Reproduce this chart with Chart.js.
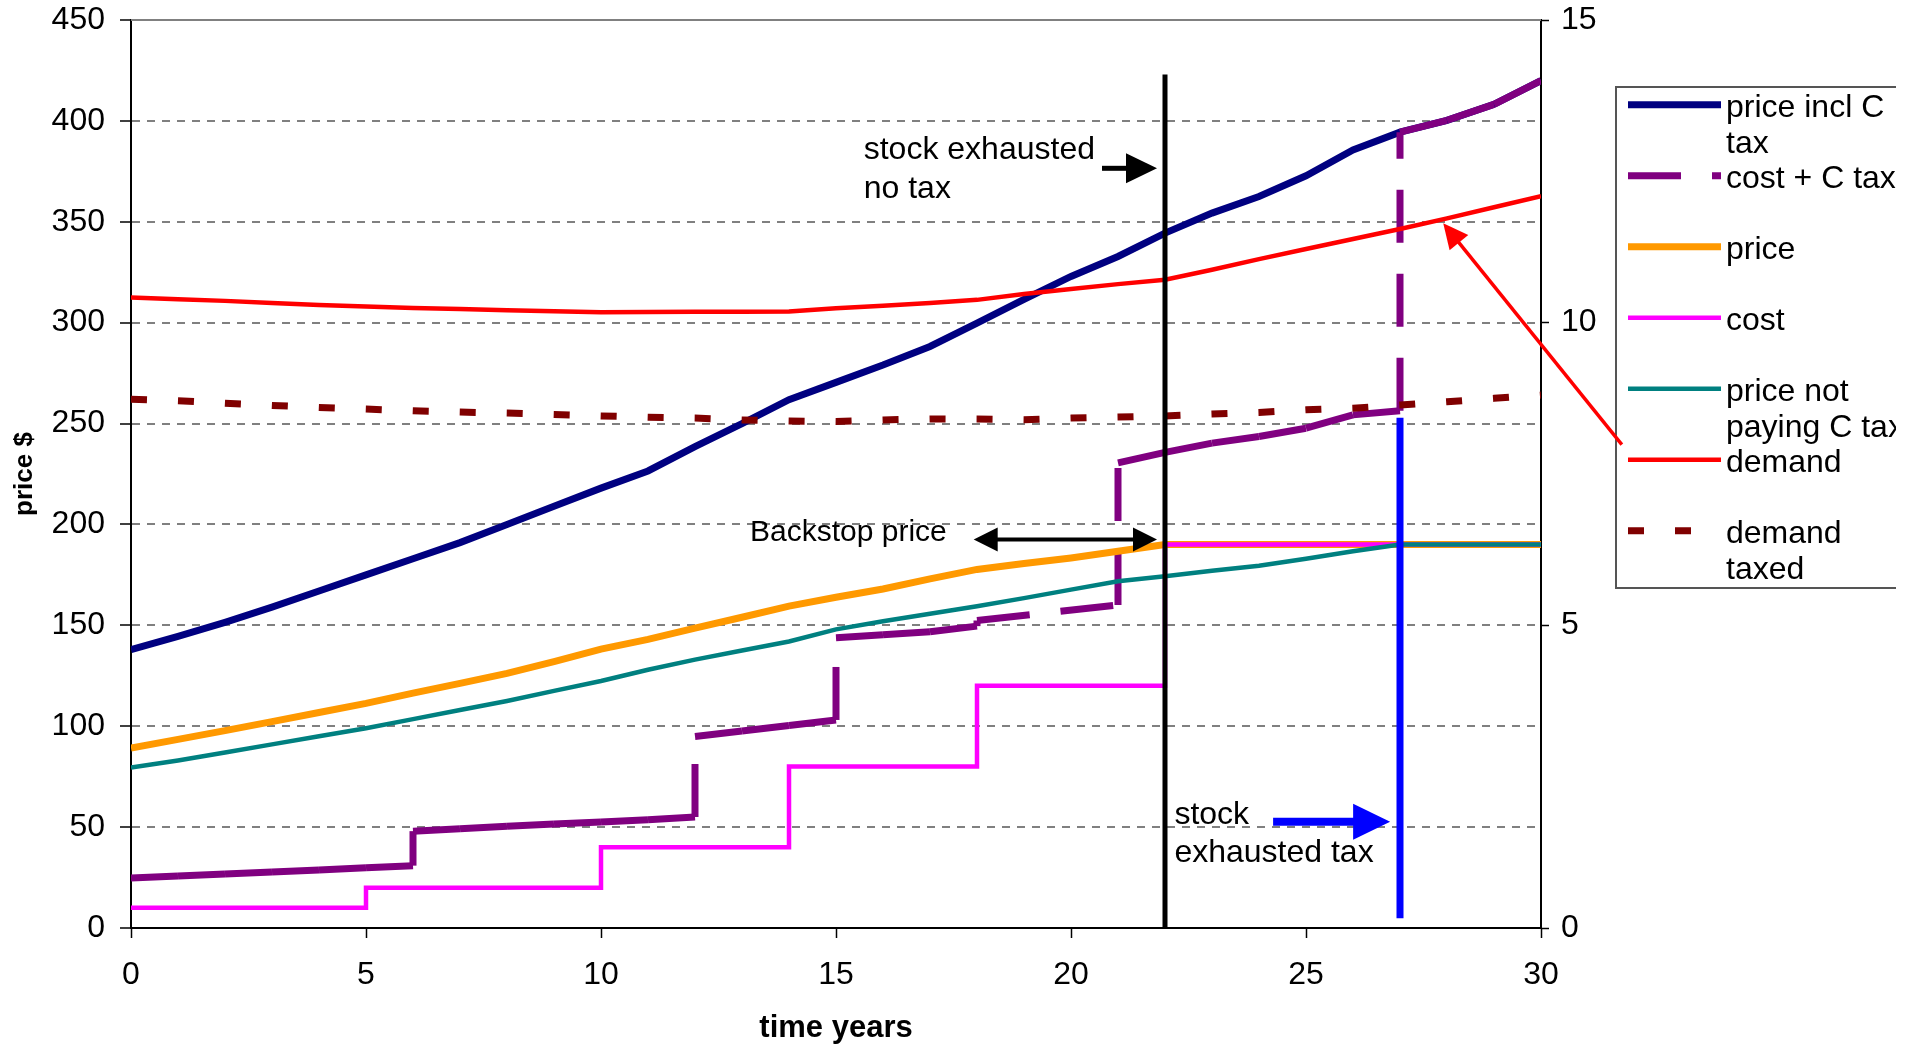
<!DOCTYPE html>
<html>
<head>
<meta charset="utf-8">
<title>price path with and without carbon tax</title>
<script src="https://cdn.jsdelivr.net/npm/chart.js@4.4.1/dist/chart.umd.min.js"></script>
<style>
  html, body { margin: 0; padding: 0; background: #fff; }
</style>
</head>
<body>
<canvas id="priceChart" width="1915" height="1050"></canvas>
<script>
// values
const years = [0, 1, 2, 3, 4, 5, 6, 7, 8, 9, 10, 11, 12, 13, 14, 15, 16, 17, 18, 19, 20, 21, 22, 23, 24, 25, 26, 27, 28, 29, 30];

const priceInclTax = [138, 144.5, 151.5, 159, 167, 175, 183, 191, 200, 209, 218, 226.5, 238.6, 250, 261.8, 270.4, 279, 288.2, 299.8, 311.5, 322.9, 332.8, 344.4, 354.3, 362.5, 372.8, 385.6, 394.4, 400.3, 408.2, 420];

// cost + C tax jumps at some years, so it keeps its own x values
const costTaxYears = [0, 1, 2, 3, 4, 5, 6, 6, 7, 8, 9, 10, 11, 12, 12, 13, 14, 15, 15, 16, 17, 18, 18, 21, 21, 22, 23, 24, 25, 26, 27, 27, 28, 29, 30];
const costTaxValues = [24.8, 25.8, 26.8, 27.8, 28.8, 29.8, 30.9, 48, 49.2, 50.4, 51.5, 52.5, 53.6, 55, 94.9, 97.6, 100.4, 103.1, 143.9, 145.3, 146.8, 149.6, 152.4, 160.1, 230.5, 235.7, 240.3, 243.6, 247.7, 254.3, 256.3, 394.4, 400.3, 408.2, 420];

const price = [89.2, 93.5, 97.8, 102.3, 106.8, 111.3, 116.4, 121.2, 126.2, 132, 138.2, 143, 148.6, 154, 159.5, 163.9, 168, 173, 177.7, 180.6, 183.4, 186.7, 190, 190, 190, 190, 190, 190, 190, 190, 190];
const cost = [10, 10, 10, 10, 10, 20, 20, 20, 20, 20, 40, 40, 40, 40, 80, 80, 80, 80, 120, 120, 120, 120, 190, 190, 190, 190, 190, 190, 190, 190, 190];
const priceNoTax = [79.5, 83, 87, 91, 95, 99, 103.5, 108, 112.5, 117.5, 122.4, 128, 133, 137.5, 142, 148, 152, 155.7, 159.5, 163.5, 167.7, 171.8, 174.3, 177, 179.5, 183, 186.7, 190, 190, 190, 190];
const demand = [312.5, 311.6, 310.8, 309.8, 308.8, 308, 307.3, 306.8, 306.2, 305.7, 305.2, 305.3, 305.4, 305.4, 305.5, 307.2, 308.4, 309.7, 311.3, 314.2, 316.7, 319.1, 321.3, 326.2, 331.5, 336.5, 341.5, 346.4, 351.7, 357.2, 362.7];
const demandTaxed = [262.1, 261.3, 260.1, 259, 258, 257.2, 256.3, 255.7, 255.2, 254.5, 253.8, 253.1, 252.7, 251.8, 251.3, 251, 251.8, 252.3, 252.2, 251.9, 252.7, 253.2, 253.8, 254.7, 255.5, 256.8, 257.6, 259.2, 260.8, 262.5, 264.1];

// exhaustion markers, on the right hand axis
const noTaxYears = [22, 22];
const noTaxLevels = [0, 14.1];
const taxYears = [27, 27];
const taxLevels = [0.16, 8.43];

const xTicks = [0, 5, 10, 15, 20, 25, 30];
const yTicks = [0, 50, 100, 150, 200, 250, 300, 350, 400, 450];
const y2Ticks = [0, 5, 10, 15];

const legendLabels = [['price incl C', 'tax'], ['cost + C tax'], ['price'], ['cost'], ['price not', 'paying C tax'], ['demand'], ['demand', 'taxed']];

const FONT = "'Liberation Sans', Arial, sans-serif";
Chart.defaults.font.family = FONT;
Chart.defaults.color = '#000';

const toXY = (xs, ys) => xs.map((x, i) => ({ x: x, y: ys[i] }));

// text boxes and arrows, placed in axis units (x years, y price)
const notes = [
  { lines: ['stock exhausted', 'no tax'], x: 15.59, y: 385.3, size: 32, gap: 39 },
  { lines: ['Backstop price'], x: 13.17, y: 195.7, size: 30, gap: 36 },
  { lines: ['stock', 'exhausted tax'], x: 22.2, y: 56, size: 32, gap: 38.5 }
];
const arrows = [
  { from: [20.66, 376.5], to: [21.83, 376.5], color: '#000000', shaft: 5, head: 31, half: 15 },
  { from: [17.93, 192.5], to: [21.83, 192.5], color: '#000000', shaft: 4, head: 24, half: 12, both: true },
  { from: [24.3, 52.7], to: [26.79, 52.7], color: '#0000FF', shaft: 8, head: 37, half: 18 },
  { from: [31.72, 239.6], to: [27.92, 349.3], color: '#FF0000', shaft: 3.5, head: 25, half: 12 }
];

function drawArrow(ctx, x1, y1, x2, y2, a) {
  const ang = Math.atan2(y2 - y1, x2 - x1);
  const len = Math.hypot(x2 - x1, y2 - y1);
  ctx.save();
  ctx.translate(x1, y1);
  ctx.rotate(ang);
  ctx.strokeStyle = a.color;
  ctx.fillStyle = a.color;
  ctx.lineWidth = a.shaft;
  ctx.beginPath();
  ctx.moveTo(a.both ? a.head - 1 : 0, 0);
  ctx.lineTo(len - a.head + 1, 0);
  ctx.stroke();
  ctx.beginPath();
  ctx.moveTo(len, 0);
  ctx.lineTo(len - a.head, -a.half);
  ctx.lineTo(len - a.head, a.half);
  ctx.closePath();
  ctx.fill();
  if (a.both) {
    ctx.beginPath();
    ctx.moveTo(0, 0);
    ctx.lineTo(a.head, -a.half);
    ctx.lineTo(a.head, a.half);
    ctx.closePath();
    ctx.fill();
  }
  ctx.restore();
}

// grey frame line along the top of the plot
const topFrame = {
  id: 'topFrame',
  beforeDatasetsDraw(chart) {
    const { ctx, chartArea } = chart;
    ctx.save();
    ctx.strokeStyle = '#808080';
    ctx.lineWidth = 2;
    ctx.beginPath();
    ctx.moveTo(chartArea.left, chartArea.top);
    ctx.lineTo(chartArea.right, chartArea.top);
    ctx.stroke();
    ctx.restore();
  }
};

// boxed legend on the right, cut off at the page edge like the original
const boxLegend = {
  id: 'boxLegend',
  afterDraw(chart) {
    const ctx = chart.ctx;
    const left = 1616, top = 87, bottom = 588, clipRight = 1896;
    ctx.save();
    ctx.beginPath();
    ctx.rect(0, 0, clipRight, 1050);
    ctx.clip();
    ctx.strokeStyle = '#555';
    ctx.lineWidth = 2;
    ctx.strokeRect(left, top, 400, bottom - top);
    ctx.font = '32px ' + FONT;
    ctx.textBaseline = 'middle';
    ctx.textAlign = 'left';
    ctx.fillStyle = '#000';
    legendLabels.forEach((lines, i) => {
      const ds = chart.data.datasets[i];
      const y = 104.7 + i * 71;
      ctx.save();
      ctx.strokeStyle = ds.borderColor;
      ctx.lineWidth = ds.borderWidth;
      ctx.lineCap = 'butt';
      ctx.setLineDash(ds.borderDash || []);
      ctx.beginPath();
      ctx.moveTo(1628, y);
      ctx.lineTo(1721, y);
      ctx.stroke();
      ctx.restore();
      lines.forEach((t, k) => ctx.fillText(t, 1726, y + 3 + k * 36));
    });
    ctx.restore();

    // notes and arrows on top
    const xs = chart.scales.x, ys = chart.scales.y;
    ctx.save();
    ctx.fillStyle = '#000';
    ctx.textBaseline = 'middle';
    ctx.textAlign = 'left';
    notes.forEach(n => {
      ctx.font = n.size + 'px ' + FONT;
      const px = xs.getPixelForValue(n.x);
      const py = ys.getPixelForValue(n.y);
      n.lines.forEach((t, k) => ctx.fillText(t, px, py + k * n.gap));
    });
    arrows.forEach(a => {
      drawArrow(ctx,
        xs.getPixelForValue(a.from[0]), ys.getPixelForValue(a.from[1]),
        xs.getPixelForValue(a.to[0]), ys.getPixelForValue(a.to[1]), a);
    });
    ctx.restore();
  }
};

const tickFont = { size: 32 };

// keep the plot box where the original has it
const noEdgePadding = s => { s.paddingTop = 0; s.paddingBottom = 0; };

new Chart(document.getElementById('priceChart'), {
  type: 'line',
  data: {
    datasets: [
      { label: 'price incl C tax', data: toXY(years, priceInclTax), borderColor: '#000080', borderWidth: 7, order: 9 },
      {
        label: 'cost + C tax', data: toXY(costTaxYears, costTaxValues), borderColor: '#800080', borderWidth: 7,
        borderDash: [53, 31], order: 8,
        // restart the dash at every point, as the spreadsheet does
        segment: { borderDashOffset: c => (c.p0DataIndex % 2) * 0.001 }
      },
      { label: 'price', data: toXY(years, price), borderColor: '#FF9900', borderWidth: 7, order: 7 },
      { label: 'cost', data: toXY(years, cost), borderColor: '#FF00FF', borderWidth: 4.5, stepped: true, order: 6 },
      { label: 'price not paying C tax', data: toXY(years, priceNoTax), borderColor: '#008080', borderWidth: 4.5, order: 5 },
      { label: 'demand', data: toXY(years, demand), borderColor: '#FF0000', borderWidth: 4.5, order: 4 },
      { label: 'demand taxed', data: toXY(years, demandTaxed), borderColor: '#800000', borderWidth: 7, borderDash: [16, 31], order: 3 },
      { label: 'stock exhausted no tax', data: toXY(noTaxYears, noTaxLevels), yAxisID: 'y1', borderColor: '#000000', borderWidth: 5, order: 2 },
      { label: 'stock exhausted tax', data: toXY(taxYears, taxLevels), yAxisID: 'y1', borderColor: '#0000FF', borderWidth: 7, order: 1 }
    ]
  },
  options: {
    responsive: false,
    animation: false,
    devicePixelRatio: 1,
    layout: { padding: { top: 20, left: 0, right: 0, bottom: 0 } },
    elements: {
      point: { radius: 0 },
      line: { tension: 0, fill: false, borderCapStyle: 'butt' }
    },
    plugins: { legend: { display: false }, tooltip: { enabled: false } },
    scales: {
      x: {
        type: 'linear', min: 0, max: 30,
        afterBuildTicks: s => { s.ticks = xTicks.map(v => ({ value: v })); },
        afterFit: s => { s.height = 122; },
        grid: { drawOnChartArea: false, drawTicks: true, tickLength: 10, tickColor: '#000', tickWidth: 1.5 },
        border: { color: '#000', width: 2 },
        ticks: { font: tickFont, padding: 18, maxRotation: 0 },
        title: { display: true, text: 'time years', font: { size: 31, weight: 'bold' }, padding: { top: 0, bottom: 3 } }
      },
      y: {
        type: 'linear', position: 'left', min: 0, max: 450,
        afterBuildTicks: s => { s.ticks = yTicks.map(v => ({ value: v })); },
        afterFit: s => { s.width = 131; noEdgePadding(s); },
        grid: {
          color: c => (c.tick && (c.tick.value === 0 || c.tick.value === 450)) ? 'rgba(0,0,0,0)' : '#808080',
          lineWidth: 2, tickLength: 11, tickColor: '#000', tickWidth: 1.5
        },
        border: { color: '#000', width: 2, dash: [8, 7] },
        ticks: { font: tickFont, padding: 15 },
        title: { display: true, text: 'price $', font: { size: 26, weight: 'bold' }, padding: { top: 9, bottom: 0 } }
      },
      y1: {
        type: 'linear', position: 'right', min: 0, max: 15,
        afterBuildTicks: s => { s.ticks = y2Ticks.map(v => ({ value: v })); },
        afterFit: s => { s.width = 1915 - 1541; noEdgePadding(s); },
        grid: { drawOnChartArea: false, tickLength: 8, tickColor: '#000', tickWidth: 1.5 },
        border: { color: '#000', width: 2 },
        ticks: { font: tickFont, padding: 12 }
      }
    }
  },
  plugins: [topFrame, boxLegend]
});
</script>
</body>
</html>
